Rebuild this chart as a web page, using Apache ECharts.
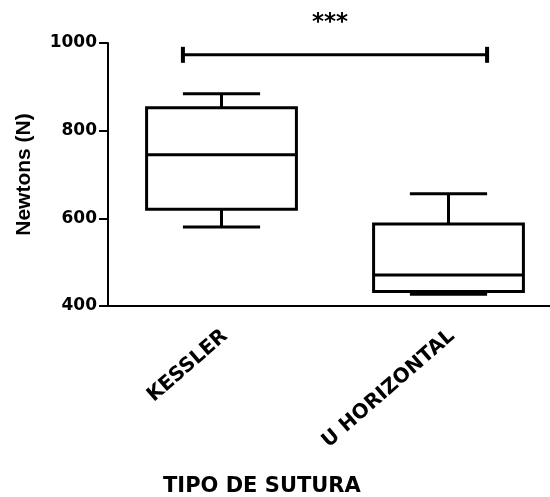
<!DOCTYPE html>
<html>
<head>
<meta charset="utf-8">
<script src="https://cdn.jsdelivr.net/npm/echarts@6/dist/echarts.min.js"></script>
<style>
html,body{margin:0;padding:0;background:#fff;}
#chart{width:550px;height:497px;}
</style>
</head>
<body>
<div id="chart"></div>
<script>
// ---- Data ----
const categories = ['KESSLER', 'U HORIZONTAL'];
const minVals = [580, 427];
const q1Vals = [621, 433];
const medianVals = [745, 471];
const q3Vals = [852, 587];
const maxVals = [884, 656];
const yTickValues = [400, 600, 800, 1000];
const sigLevel = 973;
const sigLabel = '***';
const yAxisTitle = 'Newtons (N)';
const xAxisTitle = 'TIPO DE SUTURA';

// ---- Build ----
const boxData = categories.map((c, i) => [i, minVals[i], q1Vals[i], medianVals[i], q3Vals[i], maxVals[i]]);
const labelData = categories.map((c, i) => [i, yTickValues[0]]);
const FONT = 'DejaVu Sans';
const LW = 3;

function renderBox(params, api) {
  const i = api.value(0);
  const band = api.size([1, 0])[0];
  const half = band * 0.33;
  const capHalf = band * 0.17;
  const pMin = api.coord([i, api.value(1)]);
  const pQ1 = api.coord([i, api.value(2)]);
  const pMed = api.coord([i, api.value(3)]);
  const pQ3 = api.coord([i, api.value(4)]);
  const pMax = api.coord([i, api.value(5)]);
  const x = pMin[0];
  const st = { stroke: '#000', lineWidth: LW, fill: null };
  return {
    type: 'group',
    children: [
      { type: 'rect', shape: { x: x - half, y: pQ3[1], width: half * 2, height: pQ1[1] - pQ3[1] }, style: { stroke: '#000', lineWidth: LW, fill: 'none' } },
      { type: 'line', shape: { x1: x - half, y1: pMed[1], x2: x + half, y2: pMed[1] }, style: st },
      { type: 'line', shape: { x1: x, y1: pQ3[1], x2: x, y2: pMax[1] }, style: st },
      { type: 'line', shape: { x1: x, y1: pQ1[1], x2: x, y2: pMin[1] }, style: st },
      { type: 'line', shape: { x1: x - capHalf, y1: pMax[1], x2: x + capHalf, y2: pMax[1] }, style: st },
      { type: 'line', shape: { x1: x - capHalf, y1: pMin[1], x2: x + capHalf, y2: pMin[1] }, style: st }
    ]
  };
}

function renderSig(params, api) {
  const band = api.size([1, 0])[0];
  const capHalf = band * 0.17;
  const a = api.coord([api.value(0), api.value(2)]);
  const b = api.coord([api.value(1), api.value(2)]);
  const x1 = a[0] - capHalf, x2 = b[0] + capHalf, y = a[1];
  const st = { stroke: '#000', lineWidth: LW, fill: null };
  return {
    type: 'group',
    children: [
      { type: 'line', shape: { x1: x1, y1: y, x2: x2, y2: y }, style: st },
      { type: 'line', shape: { x1: x1, y1: y - 8, x2: x1, y2: y + 8 }, style: { stroke: '#000', lineWidth: 4 } },
      { type: 'line', shape: { x1: x2, y1: y - 8, x2: x2, y2: y + 8 }, style: { stroke: '#000', lineWidth: 4 } },
      { type: 'text', x: (x1 + x2) / 2 - 5, y: y - 32, style: { text: sigLabel, align: 'center', verticalAlign: 'middle', fill: '#000', font: 'bold 23px "DejaVu Sans"' } }
    ]
  };
}

function renderCatLabel(params, api) {
  const i = api.value(0);
  const p = api.coord([i, api.value(1)]);
  return {
    type: 'text',
    x: p[0] - 3,
    y: p[1] + 20,
    rotation: 41 * Math.PI / 180,
    style: { text: categories[i], align: 'right', verticalAlign: 'top', fill: '#000', font: 'bold 20px "DejaVu Sans"' }
  };
}

const chart = echarts.init(document.getElementById('chart'), null, { renderer: 'canvas' });
chart.setOption({
  animation: false,
  backgroundColor: '#fff',
  grid: { left: 108, top: 43, width: 454, bottom: 191, containLabel: false, outerBoundsMode: 'none' },
  xAxis: {
    type: 'category',
    data: categories,
    boundaryGap: true,
    axisLine: { lineStyle: { color: '#000', width: 2 } },
    axisTick: { alignWithLabel: true, length: 8, lineStyle: { color: '#000', width: 2 } },
    axisLabel: { show: false },
    splitLine: { show: false }
  },
  yAxis: {
    type: 'value',
    min: yTickValues[0],
    max: yTickValues[yTickValues.length - 1],
    interval: yTickValues[1] - yTickValues[0],
    name: yAxisTitle,
    nameLocation: 'middle',
    nameGap: 73,
    nameTextStyle: { color: '#000', fontFamily: 'Liberation Sans', fontWeight: 'bold', fontSize: 21 },
    axisLine: { show: true, lineStyle: { color: '#000', width: 2 } },
    axisTick: { show: true, length: 9, lineStyle: { color: '#000', width: 2 } },
    axisLabel: { margin: 11, color: '#000', fontFamily: FONT, fontWeight: 'bold', fontSize: 17, formatter: v => String(v) },
    splitLine: { show: false }
  },
  graphic: [
    { type: 'text', left: 262 - 99, top: 476, style: { text: xAxisTitle, fill: '#000', font: 'bold 21px "DejaVu Sans"' } }
  ],
  series: [
    { type: 'custom', renderItem: renderBox, data: boxData, encode: { x: 0, y: [1, 2, 3, 4, 5] }, clip: false },
    { type: 'custom', renderItem: renderSig, data: [[0, 1, sigLevel]], encode: { x: [0, 1], y: 2 }, clip: false },
    { type: 'custom', renderItem: renderCatLabel, data: labelData, encode: { x: 0, y: 1 }, clip: false, silent: true }
  ]
});
</script>
</body>
</html>
